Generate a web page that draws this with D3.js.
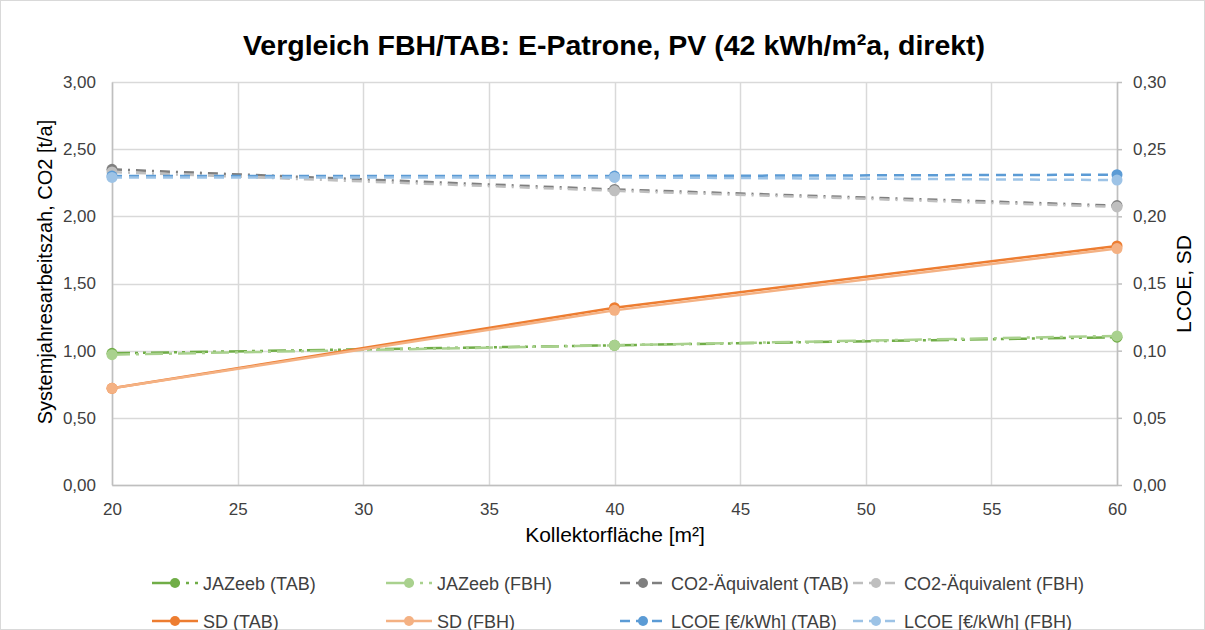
<!DOCTYPE html>
<html>
<head>
<meta charset="utf-8">
<script src="https://cdn.jsdelivr.net/npm/d3@7"></script>
<style>
  html, body { margin: 0; padding: 0; background: #fff; }
  svg { display: block; font-family: "Liberation Sans", Arial, sans-serif; }
</style>
</head>
<body>
<svg id="chart" width="1205" height="630"></svg>
<script>
// Kollektorfläche [m²]
const areas = [20, 40, 60];

// left axis series
const jazTAB = [0.98, 1.04, 1.10];
const jazFBH = [0.97, 1.04, 1.11];
const co2TAB = [2.35, 2.20, 2.08];
const co2FBH = [2.33, 2.19, 2.07];

// right axis series
const sdTAB = [0.072, 0.132, 0.178];
const sdFBH = [0.072, 0.130, 0.176];
const lcoeTAB = [0.230, 0.230, 0.231];
const lcoeFBH = [0.229, 0.229, 0.227];

const xTicks = [20, 25, 30, 35, 40, 45, 50, 55, 60];
const yLeftTicks = [0, 0.5, 1, 1.5, 2, 2.5, 3];
const yRightTicks = [0, 0.05, 0.10, 0.15, 0.20, 0.25, 0.30];

const series = [
  { name: "JAZeeb (TAB)", values: jazTAB, axis: "L", color: "#70AD47", dash: "18,5,3,5,3,5", legendDash: "28,6,3,6" },
  { name: "JAZeeb (FBH)", values: jazFBH, axis: "L", color: "#A9D18E", dash: "18,6,3,6", legendDash: "28,6,3,6" },
  { name: "CO2-Äquivalent (TAB)", values: co2TAB, axis: "L", color: "#7F7F7F", dash: "10,6,2,6", legendDash: "10,6" },
  { name: "CO2-Äquivalent (FBH)", values: co2FBH, axis: "L", color: "#BFBFBF", dash: "10,6,2,6", legendDash: "10,6" },
  { name: "SD (TAB)", values: sdTAB, axis: "R", color: "#ED7D31", dash: null, legendDash: null },
  { name: "SD (FBH)", values: sdFBH, axis: "R", color: "#F4B183", dash: null, legendDash: null },
  { name: "LCOE [€/kWh] (TAB)", values: lcoeTAB, axis: "R", color: "#5B9BD5", dash: "10,7", legendDash: "10,6" },
  { name: "LCOE [€/kWh] (FBH)", values: lcoeFBH, axis: "R", color: "#9DC3E6", dash: "10,7", legendDash: "10,6" }
];

const svg = d3.select("#chart");
const W = 1205, H = 630;
const plot = { left: 112, right: 1117, top: 82, bottom: 485 };

// outer frame
svg.append("rect").attr("x", 0.5).attr("y", 0.5).attr("width", W - 1).attr("height", H - 1)
  .attr("fill", "#fff").attr("stroke", "#D9D9D9");

const x = d3.scaleLinear().domain([20, 60]).range([plot.left, plot.right]);
const yL = d3.scaleLinear().domain([0, 3]).range([plot.bottom, plot.top]);
const yR = d3.scaleLinear().domain([0, 0.3]).range([plot.bottom, plot.top]);

const fmt2 = v => d3.format(".2f")(v).replace(".", ",");
const gridColor = "#D9D9D9";

// gridlines
const grid = svg.append("g");
grid.selectAll("line.h").data(yLeftTicks).join("line")
  .attr("x1", plot.left).attr("x2", plot.right)
  .attr("y1", d => Math.round(yL(d)) + 0.5).attr("y2", d => Math.round(yL(d)) + 0.5)
  .attr("stroke", gridColor).attr("stroke-width", 1.5);
grid.selectAll("line.v").data(xTicks).join("line")
  .attr("y1", plot.top).attr("y2", plot.bottom)
  .attr("x1", d => Math.round(x(d)) + 0.5).attr("x2", d => Math.round(x(d)) + 0.5)
  .attr("stroke", gridColor).attr("stroke-width", 1.5);

// axes
function styleAxis(g) {
  g.select(".domain").attr("stroke", "#BFBFBF").attr("stroke-width", 1.5);
  g.selectAll(".tick line").attr("stroke", "#BFBFBF").attr("stroke-width", 1.5);
  g.selectAll(".tick text").attr("fill", "#404040").attr("font-size", 17)
    .attr("font-family", "Liberation Sans, Arial, sans-serif");
}
svg.append("g").attr("transform", `translate(0,${plot.bottom})`)
  .call(d3.axisBottom(x).tickValues(xTicks).tickSize(0).tickPadding(18).tickFormat(d3.format("d")))
  .call(styleAxis);
svg.append("g").attr("transform", `translate(${plot.left},0)`)
  .call(d3.axisLeft(yL).tickValues(yLeftTicks).tickSize(0).tickPadding(16).tickFormat(fmt2))
  .call(styleAxis);
svg.append("g").attr("transform", `translate(${plot.right},0)`)
  .call(d3.axisRight(yR).tickValues(yRightTicks).tickSize(5).tickSizeOuter(0).tickPadding(11).tickFormat(fmt2))
  .call(styleAxis);

// series lines and markers
series.forEach(s => {
  const ys = s.axis === "L" ? yL : yR;
  const line = d3.line().x((d, i) => x(areas[i])).y(d => ys(d));
  const g = svg.append("g");
  g.append("path").datum(s.values).attr("d", line)
    .attr("fill", "none").attr("stroke", s.color).attr("stroke-width", 2.5)
    .attr("stroke-dasharray", s.dash);
  g.selectAll("circle").data(s.values).join("circle")
    .attr("cx", (d, i) => x(areas[i])).attr("cy", d => ys(d)).attr("r", 5.5)
    .attr("fill", s.color);
});

// title
svg.append("text").attr("x", 614).attr("y", 55).attr("text-anchor", "middle")
  .attr("font-size", 28.5).attr("font-weight", "bold").attr("fill", "#000")
  .text("Vergleich FBH/TAB: E-Patrone, PV (42 kWh/m²a, direkt)");

// axis titles
svg.append("text").attr("x", 615).attr("y", 542).attr("text-anchor", "middle")
  .attr("font-size", 21).attr("fill", "#000").text("Kollektorfläche [m²]");
svg.append("text").attr("transform", `translate(45,272) rotate(-90)`)
  .attr("text-anchor", "middle").attr("dy", "0.35em").attr("font-size", 20).attr("fill", "#000")
  .text("Systemjahresarbeitszah, CO2 [t/a]");
svg.append("text").attr("transform", `translate(1184,284) rotate(-90)`)
  .attr("text-anchor", "middle").attr("dy", "0.35em").attr("font-size", 21).attr("fill", "#000")
  .text("LCOE, SD");

// legend
const legendCols = [152, 386, 620, 853];
const legendRows = [583, 621];
series.forEach((s, k) => {
  const cx = legendCols[k % 4], cy = legendRows[Math.floor(k / 4)];
  const g = svg.append("g").attr("transform", `translate(${cx},${cy})`);
  g.append("line").attr("x1", 0).attr("x2", 46).attr("y1", 0).attr("y2", 0)
    .attr("stroke", s.color).attr("stroke-width", 2.5)
    .attr("stroke-dasharray", s.legendDash);
  g.append("circle").attr("cx", 23).attr("cy", 0).attr("r", 5).attr("fill", s.color);
  g.append("text").attr("x", 51).attr("y", 6.5).attr("font-size", 18).attr("fill", "#404040")
    .text(s.name);
});
</script>
</body>
</html>
